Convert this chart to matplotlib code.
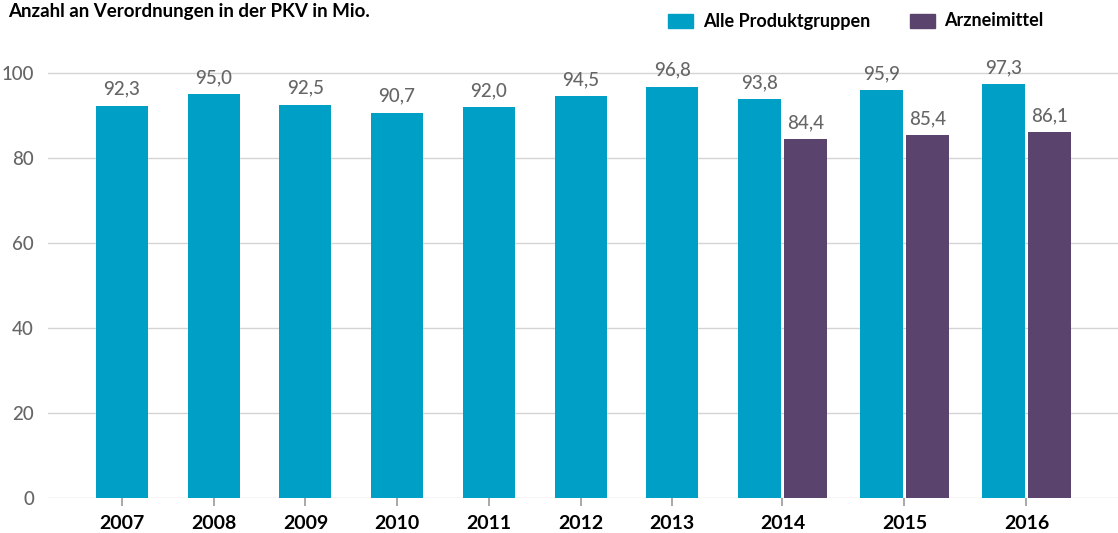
import numpy as np
import matplotlib.pyplot as plt

plt.rcParams['font.family'] = ['Lato', 'DejaVu Sans']

# Daten
jahre = ['2007', '2008', '2009', '2010', '2011', '2012', '2013', '2014', '2015', '2016']
alle_produktgruppen = [92.3, 95.0, 92.5, 90.7, 92.0, 94.5, 96.8, 93.8, 95.9, 97.3]
arzneimittel = [None, None, None, None, None, None, None, 84.4, 85.4, 86.1]
y_ticks = [0, 20, 40, 60, 80, 100]

blau = '#00A0C6'
lila = '#5A436D'
grau = '#666666'

fig = plt.figure(figsize=(11.18, 5.33), dpi=100)
W, H = 1118, 533
# Achse in Pixelkoordinaten der Vorlage
ax = fig.add_axes([48 / W, 1 - 498 / H, 1 - 48 / W, (498 - 60) / H])
ax.set_xlim(48, 1118)
ax.set_ylim(0, (498 - 60) / 4.25)

# Positionen der Gruppen: Einzelbalken breiter, Doppelbalken schmaler
b_einzel = 52
b_doppel = 43
abstand = 3
mitten = []
rechts = 96 - 39.7
vorher_doppel = False
for a in arzneimittel:
    breite = b_einzel if a is None else 2 * b_doppel + abstand
    luecke = 33 if vorher_doppel else 39.7
    mitte = rechts + luecke + breite / 2
    mitten.append(mitte)
    rechts = mitte + breite / 2
    vorher_doppel = a is not None


def label(x, v):
    ax.text(x, v + 1.9, f'{v:.1f}'.replace('.', ','), ha='center', va='bottom',
            fontsize=13.5, fontweight='medium', color=grau)


for m, v, a in zip(mitten, alle_produktgruppen, arzneimittel):
    if a is None:
        ax.bar(m, v, width=b_einzel, color=blau, zorder=3)
        label(m, v)
    else:
        x1 = m - (b_doppel + abstand) / 2
        x2 = m + (b_doppel + abstand) / 2
        ax.bar(x1, v, width=b_doppel, color=blau, zorder=3)
        ax.bar(x2, a, width=b_doppel, color=lila, zorder=3)
        label(x1, v)
        label(x2, a)

for yt in y_ticks:
    ax.axhline(yt, color='#d4d4d4', lw=1, zorder=1)

for s in ax.spines.values():
    s.set_visible(False)

ax.set_yticks(y_ticks)
ax.set_yticklabels([str(t) for t in y_ticks], fontsize=13.5, fontweight='medium', color=grau)
ax.tick_params(axis='y', length=0, pad=10)
ax.set_xticks(mitten)
ax.set_xticklabels(jahre, fontsize=14, fontweight='bold', color='black')
ax.tick_params(axis='x', length=6, width=1.2, color='#999999', pad=6)

fig.text(8 / W, 1 - 12 / H, 'Anzahl an Verordnungen in der PKV in Mio.', fontsize=13.5,
         fontweight='bold', ha='left', va='center', color='black')

# Legende
fig.patches.append(plt.Rectangle((668 / W, 1 - 28 / H), 25 / W, 14 / H, color=blau,
                                 transform=fig.transFigure))
fig.text(703 / W, 1 - 21 / H, 'Alle Produktgruppen', fontsize=13, fontweight='bold',
         ha='left', va='center')
fig.patches.append(plt.Rectangle((910 / W, 1 - 28 / H), 25 / W, 14 / H, color=lila,
                                 transform=fig.transFigure))
fig.text(944 / W, 1 - 21 / H, 'Arzneimittel', fontsize=13, fontweight='bold',
         ha='left', va='center')

fig.savefig('out.png', dpi=100)
